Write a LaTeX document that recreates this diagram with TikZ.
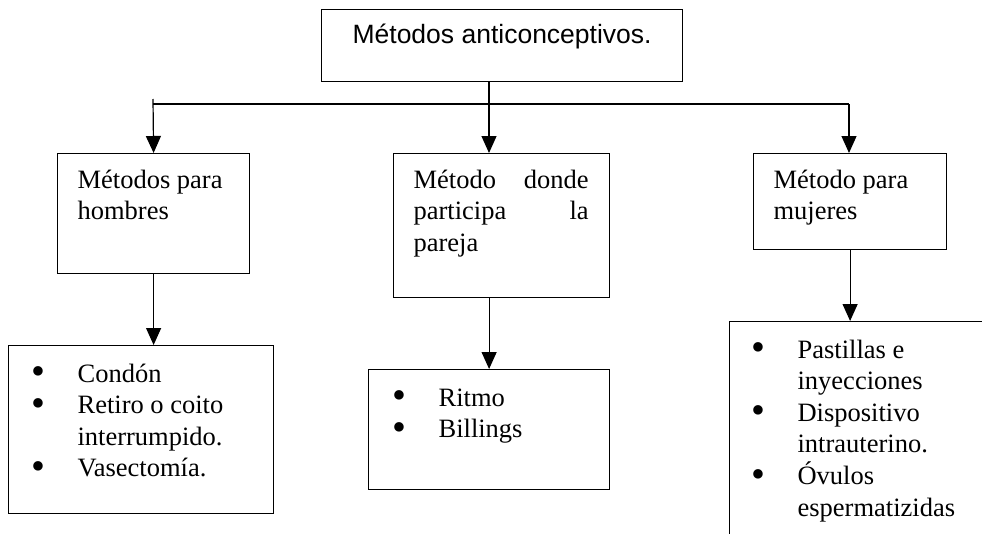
\documentclass[tikz,border=0pt]{standalone}
\usepackage{fontspec}
\usepackage{graphicx}
\setmainfont{Liberation Serif}
\setsansfont{Liberation Sans}
\usetikzlibrary{arrows.meta}
\newcommand{\bul}{\makebox[46.5pt][l]{\smash{\raisebox{-2.7pt}{\scalebox{1.5}{•}}}}}
\newcommand{\sangria}{\hspace*{46.5pt}}

\begin{document}
\begin{tikzpicture}[x=1pt,y=-1pt,line width=1.2pt,
  caja/.style={draw,anchor=north west,inner sep=0pt},
  txt/.style={anchor=base west,inner sep=0pt,font=\fontsize{26.5}{31.5}\selectfont},
  flecha/.style={-{Triangle[width=15pt,length=17pt]}}]
\useasboundingbox (0,0) rectangle (982,533);
\clip (0,0) rectangle (982,533);
\node[caja,minimum width=361pt,minimum height=72pt] (metodos) at (321,9) {};
\node[txt,anchor=base,font=\sffamily\fontsize{26.5}{31.5}\selectfont] (metodosT) at ([yshift=-34pt]metodos.north) {Métodos anticonceptivos.};
\node[caja,minimum width=192pt,minimum height=120pt] (hombres) at (57,153) {};
\node[caja,minimum width=216pt,minimum height=144pt] (pareja) at (393,153) {};
\node[caja,minimum width=193pt,minimum height=96pt] (mujeres) at (753,153) {};
\node[txt] (hombresT) at ([shift={(20pt,-35pt)}]hombres.north west)
  {\begin{tabular}[t]{@{}l@{}}Métodos para\\hombres\end{tabular}};
\node[txt] (parejaT) at ([shift={(20pt,-35pt)}]pareja.north west)
  {\begin{tabular}[t]{@{}p{175pt}@{}}Método\hfill donde\\participa\hfill la\\pareja\end{tabular}};
\node[txt] (mujeresT) at ([shift={(20pt,-35pt)}]mujeres.north west)
  {\begin{tabular}[t]{@{}l@{}}Método para\\mujeres\end{tabular}};
\node[caja,minimum width=265pt,minimum height=168pt] (condon) at (8,345) {};
\node[caja,minimum width=241pt,minimum height=120pt] (ritmo) at (368,369) {};
\node[caja,minimum width=300pt,minimum height=260pt] (pastillas) at (729,321) {};
\node[txt] (condonT) at ([shift={(22.5pt,-37pt)}]condon.north west)
  {\begin{tabular}[t]{@{}l@{}}\bul Condón\\\bul Retiro o coito\\\sangria interrumpido.\\\bul Vasectomía.\end{tabular}};
\node[txt] (ritmoT) at ([shift={(23.5pt,-37pt)}]ritmo.north west)
  {\begin{tabular}[t]{@{}l@{}}\bul Ritmo\\\bul Billings\end{tabular}};
\node[txt] (pastillasT) at ([shift={(21.5pt,-37pt)}]pastillas.north west)
  {\begin{tabular}[t]{@{}l@{}}\bul Pastillas e\\\sangria inyecciones\\\bul Dispositivo\\\sangria intrauterino.\\\bul Óvulos\\\sangria espermatizidas\end{tabular}};
\coordinate (izq) at (153,104);
\coordinate (cen) at (489,104);
\coordinate (der) at (849,104);
\draw (izq) -- (der);
\draw[flecha] ([yshift=5pt]izq) -- (hombres.north);
\draw[flecha] (metodos.south -| cen) -- (pareja.north -| cen);
\draw[flecha] (der) -- (mujeres.north -| der);
\draw[flecha] (hombres.south) -- (condon.north -| hombres.south);
\draw[flecha] (pareja.south -| ritmo.north) -- (ritmo.north);
\draw[flecha] (mujeres.south) -- (pastillas.north -| mujeres.south);
\end{tikzpicture}
\end{document}
